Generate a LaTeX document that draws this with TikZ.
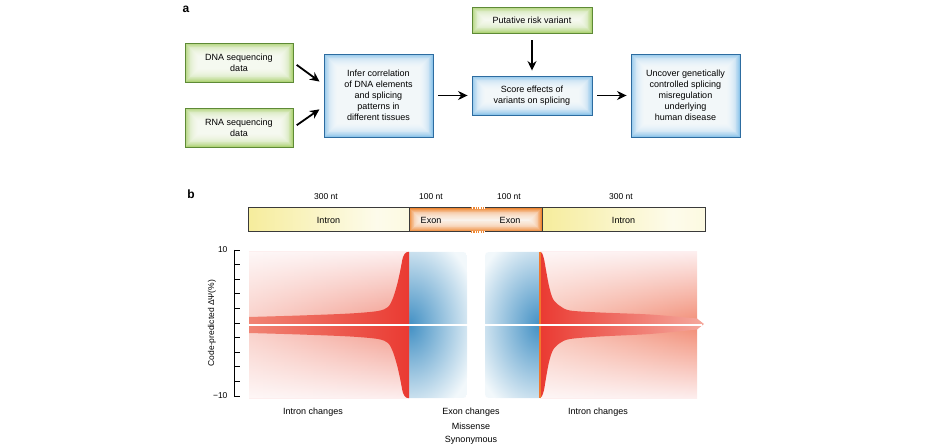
\documentclass[tikz,border=0pt]{standalone}
\usepackage{fontspec}
\setmainfont{Liberation Sans}
\usetikzlibrary{arrows.meta,calc,fadings,shadings}
\definecolor{greenE}{HTML}{B0D478}
\definecolor{greenB}{HTML}{5E8A36}
\definecolor{blueE}{HTML}{8EC5EA}
\definecolor{blueB}{HTML}{2D6CA0}
\definecolor{yel}{HTML}{F0E05A}
\definecolor{orangeE}{HTML}{EE8632}
\definecolor{barB}{HTML}{3A3A3A}
\definecolor{salmonL}{HTML}{F29484}
\definecolor{salmonR}{HTML}{F28C74}
\definecolor{redW}{HTML}{FDEEEE}
\definecolor{bandL}{HTML}{F08474}
\definecolor{redD}{HTML}{EA3A32}
\definecolor{blueH}{HTML}{4290C4}
\definecolor{blueT}{HTML}{F2F8FB}
\tikzfading[name=fadeR, left color=transparent!0, right color=transparent!100]
\pgfdeclarehorizontalshading{intronsh}{100bp}{color(0bp)=(yel); color(25bp)=(yel!60!white); color(65bp)=(yel!12!white); color(100bp)=(yel!35!white)}
\begin{document}
\begin{tikzpicture}[x=1pt,y=-1pt,
  font=\fontsize{9}{11}\selectfont,
  glow/.style={path picture={
    \fill[#1] (path picture bounding box.south west) rectangle (path picture bounding box.north east);
    \foreach \i in {1,...,14}
      \fill[white,opacity=0.16] ($(path picture bounding box.south west)+(\i*0.9pt,\i*0.9pt)$) rectangle ($(path picture bounding box.north east)-(\i*0.9pt,\i*0.9pt)$);
  }},
  gbox/.style={draw=greenB, line width=0.9pt, glow=greenE, align=center, inner sep=0pt},
  bbox/.style={draw=blueB, line width=0.9pt, glow=blueE, align=center, inner sep=0pt},
  arr/.style={line width=1.8pt, -{Stealth[length=9.5pt,width=9pt]}},
  small/.style={font=\fontsize{8.5}{10}\selectfont},
  panel/.style={font=\bfseries\fontsize{12}{12}\selectfont}
]
\useasboundingbox (0,0) rectangle (940,446);

% ---------- panel a ----------
\node[panel] (la) at (186,9) {a};
\node[gbox, minimum width=108pt, minimum height=39pt] (dna) at (239,62.5) {DNA sequencing\\data};
\node[gbox, minimum width=108pt, minimum height=39pt] (rna) at (239,127.5) {RNA sequencing\\data};
\node[bbox, minimum width=109pt, minimum height=83pt] (infer) at (378.5,95.5) {Infer correlation\\of DNA elements\\and splicing\\patterns in\\different tissues};
\node[gbox, minimum width=120pt, minimum height=26pt] (put) at (532,20) {Putative risk variant};
\node[bbox, minimum width=120pt, minimum height=39pt] (score) at (532,95.5) {Score effects of\\variants on splicing};
\node[bbox, minimum width=109pt, minimum height=83pt] (unc) at (685.5,95.5) {Uncover genetically\\controlled splicing\\misregulation\\underlying\\human disease};

\draw[arr, shorten <=4pt, shorten >=5pt] (dna.east) -- ([yshift=11pt]infer.west);
\draw[arr, shorten <=4pt, shorten >=5pt] (rna.east) -- ([yshift=-11pt]infer.west);
\draw[arr, shorten <=5pt, shorten >=4pt] (infer.east) -- (score.west);
\draw[arr, shorten <=7pt, shorten >=5pt] (put.south) -- (score.north);
\draw[arr, shorten <=5pt, shorten >=4pt] (score.east) -- (unc.west);

% ---------- panel b : bar ----------
\node[panel] (lb) at (191,194) {b};
\node[draw=barB, line width=1pt, shade, shading=intronsh, minimum width=161pt, minimum height=24pt, inner sep=0pt] (intL) at (328.5,220) {Intron};
\node[draw=barB, line width=1pt, glow=orangeE, minimum width=133pt, minimum height=24pt, inner sep=0pt] (exon) at (475.5,220) {};
\node[draw=barB, line width=1pt, shade, shading=intronsh, minimum width=163pt, minimum height=24pt, inner sep=0pt] (intR) at (623.5,220) {Intron};
\node (ex1) at (431,220) {Exon};
\node (ex2) at (510,220) {Exon};
\draw[white, line width=1.6pt] (471,208) -- (485,208) (471,232) -- (485,232);
\draw[orangeE, line width=1.2pt, dash pattern=on 1.2pt off 1.2pt] (471,208) -- (485,208) (471,232) -- (485,232);
\node[small] (n1) at (326,197) {300 nt};
\node[small] (n2) at (431,197) {100 nt};
\node[small] (n3) at (509,197) {100 nt};
\node[small] (n4) at (621,197) {300 nt};

% ---------- panel b : heat map ----------
% left blue
\begin{scope}
\clip (409,252) -- (459,252) .. controls (467,252) .. (467,260) -- (467,390) .. controls (467,398) .. (459,398) -- (409,398) -- cycle;
\fill[blueT] (409,252) rectangle (467,398);
\shade[inner color=blueH, outer color=blueT] (409,325) ellipse [x radius=70, y radius=95];
\end{scope}
% right blue
\begin{scope}
\clip (540,252) -- (540,398) -- (493,398) .. controls (485,398) .. (485,390) -- (485,260) .. controls (485,252) .. (493,252) -- cycle;
\fill[blueT] (485,252) rectangle (540,398);
\shade[inner color=blueH, outer color=blueT] (540,325) ellipse [x radius=70, y radius=95];
\end{scope}
% left red
\shade[top color=redW, bottom color=redW, middle color=salmonL] (249,252) rectangle (409,398);
\fill[white, path fading=fadeR, fill opacity=0.55] (249,252) rectangle (409,398);
\shade[left color=bandL, right color=redD]
  plot[smooth] coordinates {(249,317) (300,315.5) (350,313.5) (378,311) (388,307) (393,298) (397,285) (400,272) (403,257) (406,252.5) (409,252)}
  -- plot[smooth] coordinates {(409,398) (406,397.5) (403,393) (400,378) (397,365) (393,352) (388,343) (378,339) (350,336.5) (300,334.5) (249,333)}
  -- cycle;
% right red
\shade[top color=redW, bottom color=redW, middle color=salmonR] (540,252) rectangle (697,398);
\fill[white, path fading=fadeR, fill opacity=0.5] (540,252) rectangle (697,398);
\shade[left color=redD, right color=bandL!70!white]
  plot[smooth] coordinates {(540,252) (542,253) (544,259) (546,270) (549,286) (553,299) (560,306) (570,310.5) (600,312.5) (650,314.5) (697,318.5)}
  -- (704,324)
  -- plot[smooth] coordinates {(697,329.5) (650,334) (600,336.5) (570,339) (560,343) (553,350) (549,362) (546,378) (544,390) (542,396) (540,398)}
  -- cycle;
\draw[orangeE!90!red, line width=1.1pt] (540,252) -- (540,398);
% center line
\draw[gray!30, line width=2.6pt] (247,325) -- (468,325) (485,325) -- (702,325);
\draw[white, line width=1.3pt] (247,325) -- (468,325) (485,325) -- (702,325);

% axis
\draw[line width=0.8pt] (234,250) -- (234,396);
\foreach \k in {0,...,10} \draw[line width=0.8pt] (234,250+\k*14.6) -- (240,250+\k*14.6);
\node[small, anchor=east] (y10) at (231,250) {10};
\node[small, anchor=east] (ym10) at (231,396) {−10};
\node[small, rotate=90] (ylab) at (212,323) {Code-predicted ΔΨ(\%)};

% bottom labels
\node (il) at (313,412) {Intron changes};
\node (ec) at (471,412) {Exon changes};
\node (ms) at (471,426) {Missense};
\node (sy) at (471,440) {Synonymous};
\node (ir) at (598,412) {Intron changes};
\end{tikzpicture}
\end{document}
